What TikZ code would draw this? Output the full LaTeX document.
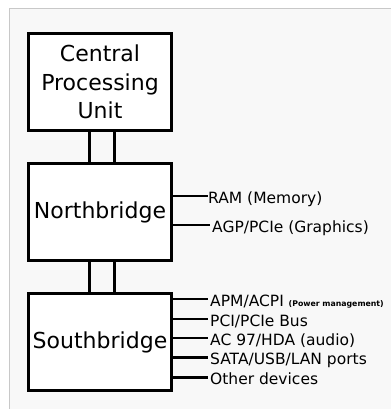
\documentclass[tikz,border=0pt]{standalone}
\usepackage{fontspec}
\setsansfont{DejaVu Sans}
\definecolor{panel}{HTML}{F8F8F8}
\definecolor{panelrule}{HTML}{C8C8C8}
\definecolor{ink}{HTML}{000000}
\tikzset{
  font=\sffamily,
  chip/.style={rectangle, draw=ink, line width=3pt, fill=white, align=center, inner sep=0pt,
               minimum width=143pt, minimum height=97pt, font=\sffamily\fontsize{22}{28.5}\selectfont},
  bus/.style={draw=ink, line width=3pt},
  port/.style={anchor=west, inner sep=0pt, text height=14pt, text depth=0pt,
               font=\sffamily\fontsize{15.5}{18}\selectfont},
  wire/.style={draw=ink, line width=2.3pt, shorten >=2pt},
}
\newcommand{\pwrnote}[1]{{\fontsize{7.8}{8}\selectfont\bfseries #1}}

\begin{document}
\begin{tikzpicture}[x=1pt, y=-1pt]
  \useasboundingbox (0,0) rectangle (391,409);
  % --- backdrop panel ---
  \fill[white] (0,0) rectangle (391,409);
  \fill[panel] (9,8) rectangle (391,409);
  \draw[panelrule, line width=1pt] (9.5,409) |- (391,8.5);

  % --- chips ---
  \node[chip] (cpu) at (100, 82)  {Central\\ Processing\\ Unit};
  \node[chip] (nb)  at (100, 212) {Northbridge};
  \node[chip] (sb)  at (100, 342) {Southbridge};

  % --- double bus links between chips ---
  \foreach \dx in {-10.5, 14.5} {
    \draw[bus] ([xshift=\dx pt]cpu.south) -- ([xshift=\dx pt]nb.north);
    \draw[bus] ([xshift=\dx pt]nb.south) -- ([xshift=\dx pt]sb.north);
  }

  % --- northbridge ports ---
  \node[port] (ram) at (208, 196) {RAM (Memory)};
  \node[port] (agp) at (212, 225) {AGP/PCIe (Graphics)};
  \draw[wire, shorten >=0pt] (nb.east |- ram.west) -- (ram.west);
  \draw[wire] (nb.east |- agp.west) -- (agp.west);

  % --- southbridge ports ---
  \node[port] (apm)   at (210, 299)   {APM/ACPI \pwrnote{(Power management)}};
  \node[port] (pci)   at (210, 319)   {PCI/PCIe Bus};
  \node[port] (ac)    at (210, 338)   {AC 97/HDA (audio)};
  \node[port] (sata)  at (210, 357.5) {SATA/USB/LAN ports};
  \node[port] (other) at (210, 377.5) {Other devices};
  \foreach \p in {apm, pci, ac, sata, other}
    \draw[wire] (sb.east |- \p.west) -- (\p.west);
\end{tikzpicture}
\end{document}
